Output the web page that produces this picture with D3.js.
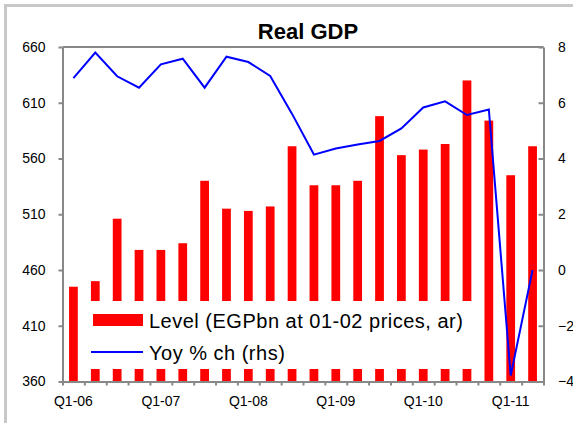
<!DOCTYPE html>
<html>
<head>
<meta charset="utf-8">
<script src="https://cdn.jsdelivr.net/npm/d3@7"></script>
<style>
  html, body { margin: 0; padding: 0; background: #ffffff; }
  svg { display: block; font-family: "Liberation Sans", Arial, sans-serif; }
</style>
</head>
<body>
<svg id="chart" width="573" height="423"></svg>
<script>
// Quarterly categories
const quarters = ["Q1-06","Q2-06","Q3-06","Q4-06","Q1-07","Q2-07","Q3-07","Q4-07",
                  "Q1-08","Q2-08","Q3-08","Q4-08","Q1-09","Q2-09","Q3-09","Q4-09",
                  "Q1-10","Q2-10","Q3-10","Q4-10","Q1-11","Q2-11"];
// Real GDP level, EGP bn at 01-02 prices (annualised) - left axis
const level = [445, 450, 506, 478, 478, 484, 540, 515, 513, 517, 571, 536,
               536, 540, 598, 563, 568, 573, 630, 594, 545, 571];
// Year-on-year % change - right axis
const yoy = [6.88, 7.80, 6.95, 6.54, 7.38, 7.58, 6.54, 7.65, 7.46, 6.96, 5.60, 4.14,
             4.36, 4.50, 4.63, 5.08, 5.83, 6.05, 5.56, 5.76, -3.79, 0.0];
// Axis tick values and labels
const leftTicks = [360, 410, 460, 510, 560, 610, 660];
const rightTicks = [-4, -2, 0, 2, 4, 6, 8];
const xLabels = ["Q1-06","Q1-07","Q1-08","Q1-09","Q1-10","Q1-11"];
const legendLabels = ["Level (EGPbn at 01-02 prices, ar)", "Yoy % ch (rhs)"];

const svg = d3.select("#chart");
const x0 = 62.5, x1 = 543.5, y0 = 47, y1 = 381.5;
const axisColor = "#888888";

// Outer frame
svg.append("path")
  .attr("d", "M5.5,430 L5.5,5.5 L580,5.5")
  .attr("fill", "none").attr("stroke", "#c8c8c8").attr("stroke-width", 3);

// Scales
const x = d3.scaleBand().domain(quarters).range([x0, x1]).paddingInner(0.6).paddingOuter(0.3);
const xb = d3.scaleLinear().domain([0, quarters.length]).range([x0, x1]);
const yL = d3.scaleLinear().domain([360, 660]).range([y1, y0]);
const yR = d3.scaleLinear().domain([-4, 8]).range([y1, y0]);

// Bars
svg.append("g").selectAll("rect").data(level).join("rect")
  .attr("x", (d, i) => x(quarters[i]))
  .attr("width", x.bandwidth())
  .attr("y", d => yL(d))
  .attr("height", d => yL(360) - yL(d))
  .attr("fill", "#ff0000");

// Top border of plot area
svg.append("line")
  .attr("x1", x0).attr("x2", x1).attr("y1", y0).attr("y2", y0)
  .attr("stroke", axisColor).attr("stroke-width", 2);

function styleAxis(g) {
  g.select(".domain").attr("stroke", axisColor).attr("stroke-width", 2);
  g.selectAll(".tick line").attr("stroke", axisColor).attr("stroke-width", 2);
  g.selectAll("text").attr("fill", "#000").attr("font-size", 14)
    .attr("font-family", "'Liberation Sans', Arial, sans-serif");
}

// Left axis
svg.append("g").attr("transform", `translate(${x0},0)`)
  .call(d3.axisLeft(yL).tickValues(leftTicks).tickSize(4).tickSizeOuter(0).tickPadding(13))
  .call(styleAxis);

// Right axis (ticks point into the plot)
svg.append("g").attr("transform", `translate(${x1},0)`)
  .call(d3.axisRight(yR).tickValues(rightTicks).tickSize(-5).tickSizeOuter(0).tickPadding(14.5))
  .call(styleAxis);

// Bottom axis: tick marks on category boundaries
svg.append("g").attr("transform", `translate(0,${y1})`)
  .call(d3.axisBottom(xb).tickValues(d3.range(0, quarters.length + 1)).tickSize(4).tickSizeOuter(0).tickFormat(""))
  .call(styleAxis);

// Bottom axis labels, centred on first-quarter bars
svg.append("g").attr("transform", `translate(0,${y1})`)
  .call(d3.axisBottom(x).tickValues(xLabels).tickSize(0).tickPadding(15))
  .call(g => g.select(".domain").remove())
  .call(styleAxis);

// Legend box
const lg = svg.append("g");
lg.append("rect").attr("x", 80).attr("y", 301).attr("width", 397).attr("height", 68).attr("fill", "#ffffff");
lg.append("rect").attr("x", 93).attr("y", 314).attr("width", 50).attr("height", 12).attr("fill", "#ff0000");
lg.append("line").attr("x1", 91).attr("x2", 143).attr("y1", 352).attr("y2", 352)
  .attr("stroke", "#0000ff").attr("stroke-width", 2);
lg.selectAll("text").data(legendLabels).join("text")
  .attr("x", 149)
  .attr("y", (d, i) => i === 0 ? 327.5 : 359.5)
  .attr("font-size", 20)
  .attr("letter-spacing", 0.5)
  .attr("fill", "#000")
  .text(d => d);

// YoY line
svg.append("path")
  .datum(yoy)
  .attr("fill", "none")
  .attr("stroke", "#0000ff")
  .attr("stroke-width", 2)
  .attr("stroke-linejoin", "miter")
  .attr("d", d3.line().x((d, i) => x(quarters[i]) + x.bandwidth() / 2).y(d => yR(d)));

// Title
svg.append("text")
  .attr("x", 308).attr("y", 39)
  .attr("text-anchor", "middle")
  .attr("font-size", 22).attr("font-weight", "bold")
  .attr("fill", "#000")
  .text("Real GDP");
</script>
</body>
</html>
